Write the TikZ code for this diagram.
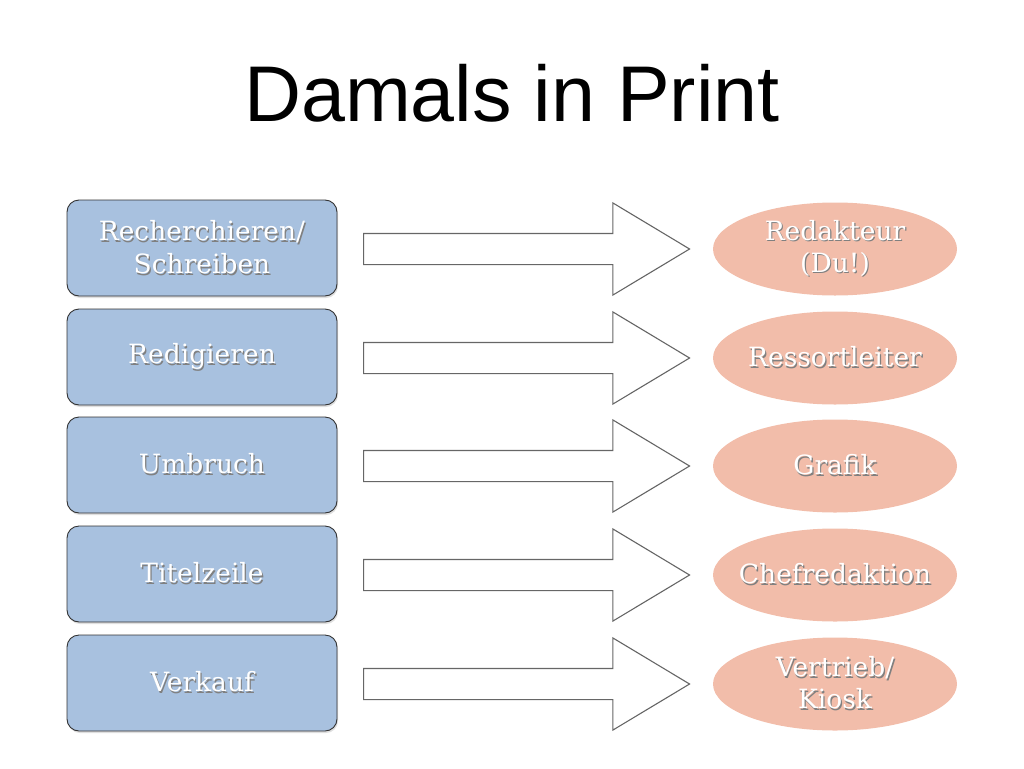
\documentclass[tikz,border=0pt]{standalone}
\usepackage{fontspec}
\usepackage{tikz}
\usetikzlibrary{shapes.geometric, shapes.arrows, shadows}

\newfontfamily\titlefont{Liberation Sans}
\setmainfont{DejaVu Serif}
\definecolor{stepblue}{HTML}{A8C1DF}
\definecolor{rolepink}{HTML}{F2BDAA}

% white text with a soft shadow
\newcommand{\shad}[1]{\leavevmode\rlap{\kern1.2pt\raisebox{-1.8pt}{\textcolor{black!50}{#1}}}#1}

\tikzset{
  stepbox/.style={draw=black!80, line width=0.9pt, fill=stepblue, rounded corners=12pt,
    minimum width=270pt, minimum height=96pt, align=center, text=white,
    font=\fontsize{26.5}{33}\selectfont, drop shadow={opacity=0.25, shadow xshift=1pt, shadow yshift=-2pt}},
  role/.style={ellipse, fill=rolepink, minimum width=244pt, minimum height=93pt,
    inner xsep=-12pt, inner ysep=-2pt, align=center, text=white, font=\fontsize{26.5}{32}\selectfont},
  blockarrow/.style={single arrow, draw=black!60, line width=1.1pt, fill=white, anchor=tail,
    minimum height=326pt, inner xsep=0pt, inner ysep=15pt,
    single arrow head extend=30.5pt, single arrow tip angle=62}
}

\begin{document}
\begin{tikzpicture}[x=1pt,y=-1pt]
  \useasboundingbox (0,0) rectangle (1024,768);

  \node[font=\titlefont\fontsize{79}{90}\selectfont] (title) at (512,93) {Damals in Print};

  \node[stepbox] (s1) at (202,248) {\shad{Recherchieren/}\\\shad{Schreiben}};
  \node[stepbox] (s2) at (202,357) {\shad{Redigieren}};
  \node[stepbox] (s3) at (202,465) {\shad{Umbruch}};
  \node[stepbox] (s4) at (202,574) {\shad{Titelzeile}};
  \node[stepbox] (s5) at (202,683) {\shad{Verkauf}};

  \node[role] (r1) at (835,249) {\shad{Redakteur}\\\shad{(Du!)}};
  \node[role] (r2) at (835,358) {\shad{Ressortleiter}};
  \node[role] (r3) at (835,466) {\shad{Grafik}};
  \node[role] (r4) at (835,575) {\shad{Chefredaktion}};
  \node[role] (r5) at (835,684) {\shad{Vertrieb/}\\\shad{Kiosk}};

  \node[blockarrow] (a1) at (363,249) {};
  \node[blockarrow] (a2) at (363,358) {};
  \node[blockarrow] (a3) at (363,466) {};
  \node[blockarrow] (a4) at (363,575) {};
  \node[blockarrow] (a5) at (363,684) {};
\end{tikzpicture}
\end{document}
